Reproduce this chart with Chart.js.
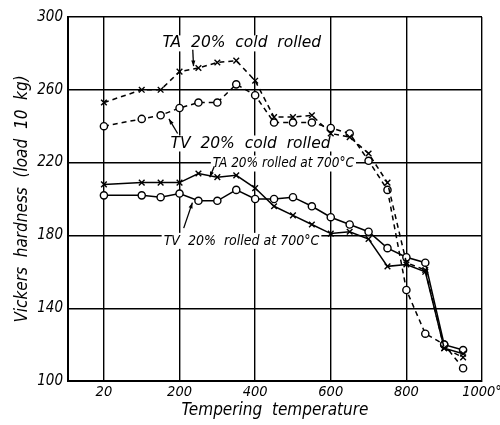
<!DOCTYPE html>
<html>
<head>
<meta charset="utf-8">
<script src="https://cdn.jsdelivr.net/npm/chart.js@4.4.1/dist/chart.umd.min.js"></script>
<style>
  html, body { margin: 0; background: #fff; }
  #wrap { width: 500px; height: 425px; }
</style>
</head>
<body>
<div id="wrap"><canvas id="chart"></canvas></div>
<script>
/* Vickers hardness vs tempering temperature, TA / TV steels */

const temps = [20, 100, 150, 200, 250, 300, 350, 400, 450, 500, 550, 600, 650, 700, 750, 800, 850, 900, 950];

const taCold = [253, 260, 260, 270, 272, 275, 276, 265, 245, 245, 246, 236, 234, 225, 209, 165, 161, 118, 113];
const tvCold = [240, 244, 246, 250, 253, 253, 263, 257, 242, 242, 242, 239, 236, 221, 205, 150, 126, 120, 107];
const ta700 = [208, 209, 209, 209, 214, 212, 213, 206, 196, 191, 186, 181, 182, 178, 163, 164, 160, 118, 115];
const tv700 = [202, 202, 201, 203, 199, 199, 205, 200, 200, 201, 196, 190, 186, 182, 173, 168, 165, 120, 117];

const xTicks = [0, 200, 400, 600, 800, 1000];
const xTickLabels = ['20', '200', '400', '600', '800', '1000°'];

// the figure's first gridline is labelled 20 but sits where 0 would be
const xAt = t => (t === 20 ? 0 : t);

// curve labels and their little arrows, in data units (temperature, hardness)
const notes = [
  { text: 'TA  20%  cold  rolled', t: 155, h: 285.5, size: 15.5, wide: true },
  { text: 'TV  20%  cold  rolled', t: 176, h: 230.5, size: 15.5, wide: true },
  { text: 'TA 20% rolled at 700°C', t: 288, h: 219.5, size: 13.5, wide: false },
  { text: 'TV  20%  rolled at 700°C', t: 158, h: 177, size: 14, wide: false },
];
const arrows = [
  { from: [235, 282], to: [237, 273] },
  { from: [195, 236], to: [172, 244] },
  { from: [292, 218], to: [280, 212] },
  { from: [211, 184], to: [234, 198] },
];

const FONT = '"DejaVu Sans Condensed", "DejaVu Sans", sans-serif';
const WIDE = '"DejaVu Sans", sans-serif';

function series(values) {
  return values.map((v, i) => ({ x: xAt(temps[i]), y: v }));
}

function style(dashed, marker) {
  return {
    borderColor: '#000',
    borderWidth: 1.5,
    borderDash: dashed ? [5, 4] : [],
    pointStyle: marker,
    pointRadius: marker === 'circle' ? 3.6 : 4,
    pointBorderWidth: 1.4,
    pointBorderColor: '#000',
    pointBackgroundColor: '#fff',
    tension: 0,
    fill: false,
  };
}

const notesPlugin = {
  id: 'notes',
  beforeDatasetsDraw(chart) {
    const { ctx, scales: { x, y } } = chart;
    ctx.save();
    ctx.textBaseline = 'middle';
    ctx.textAlign = 'left';
    notes.forEach(n => {
      ctx.font = 'italic ' + n.size + 'px ' + (n.wide ? WIDE : FONT);
      const px = x.getPixelForValue(n.t);
      const py = y.getPixelForValue(n.h);
      const w = ctx.measureText(n.text).width;
      ctx.fillStyle = '#fff';
      ctx.fillRect(px - 2, py - 8, w + 4, 16);
      ctx.fillStyle = '#000';
      ctx.fillText(n.text, px, py);
    });
    ctx.strokeStyle = '#000';
    ctx.fillStyle = '#000';
    ctx.lineWidth = 1.3;
    arrows.forEach(a => {
      const x0 = x.getPixelForValue(a.from[0]);
      const y0 = y.getPixelForValue(a.from[1]);
      const x1 = x.getPixelForValue(a.to[0]);
      const y1 = y.getPixelForValue(a.to[1]);
      ctx.beginPath();
      ctx.moveTo(x0, y0);
      ctx.lineTo(x1, y1);
      ctx.stroke();
      const ang = Math.atan2(y1 - y0, x1 - x0);
      ctx.beginPath();
      ctx.moveTo(x1, y1);
      ctx.lineTo(x1 - 6 * Math.cos(ang - 0.35), y1 - 6 * Math.sin(ang - 0.35));
      ctx.lineTo(x1 - 6 * Math.cos(ang + 0.35), y1 - 6 * Math.sin(ang + 0.35));
      ctx.closePath();
      ctx.fill();
    });
    ctx.restore();
  },
};

new Chart(document.getElementById('chart'), {
  type: 'line',
  data: {
    datasets: [
      { label: 'TA 20% cold rolled', data: series(taCold), ...style(true, 'crossRot') },
      { label: 'TV 20% cold rolled', data: series(tvCold), ...style(true, 'circle') },
      { label: 'TA 20% rolled at 700°C', data: series(ta700), ...style(false, 'crossRot') },
      { label: 'TV 20% rolled at 700°C', data: series(tv700), ...style(false, 'circle') },
    ],
  },
  options: {
    responsive: true,
    maintainAspectRatio: false,
    animation: false,
    layout: { padding: { top: 17, right: 0, left: 0, bottom: 0 } },
    plugins: {
      legend: { display: false },
      tooltip: { enabled: false },
    },
    scales: {
      x: {
        type: 'linear',
        min: -95,
        max: 1000,
        afterBuildTicks: s => { s.ticks = xTicks.map(v => ({ value: v })); },
        afterFit: s => { s.height = 44; s.paddingRight = 18; },
        ticks: {
          callback: (v) => xTickLabels[xTicks.indexOf(v)],
          color: '#000',
          padding: 3,
          maxRotation: 0,
          font: { family: FONT, size: 14.5, style: 'italic' },
        },
        grid: { color: '#000', lineWidth: 1.4, drawTicks: false },
        border: { color: '#000', width: 2 },
        title: {
          display: true,
          text: 'Tempering  temperature',
          color: '#000',
          padding: { top: 0, bottom: 4 },
          font: { family: FONT, size: 17, style: 'italic' },
        },
      },
      y: {
        min: 100,
        max: 300,
        afterFit: s => { s.width = 68; },
        ticks: {
          stepSize: 40,
          color: '#000',
          padding: 5,
          font: { family: FONT, size: 15, style: 'italic' },
        },
        grid: { color: '#000', lineWidth: 1.4, drawTicks: false },
        border: { color: '#000', width: 2 },
        title: {
          display: true,
          text: 'Vickers  hardness  (load  10  kg)',
          color: '#000',
          padding: { top: 12, bottom: 4 },
          font: { family: FONT, size: 17, style: 'italic' },
        },
      },
    },
  },
  plugins: [notesPlugin],
});
</script>
</body>
</html>
